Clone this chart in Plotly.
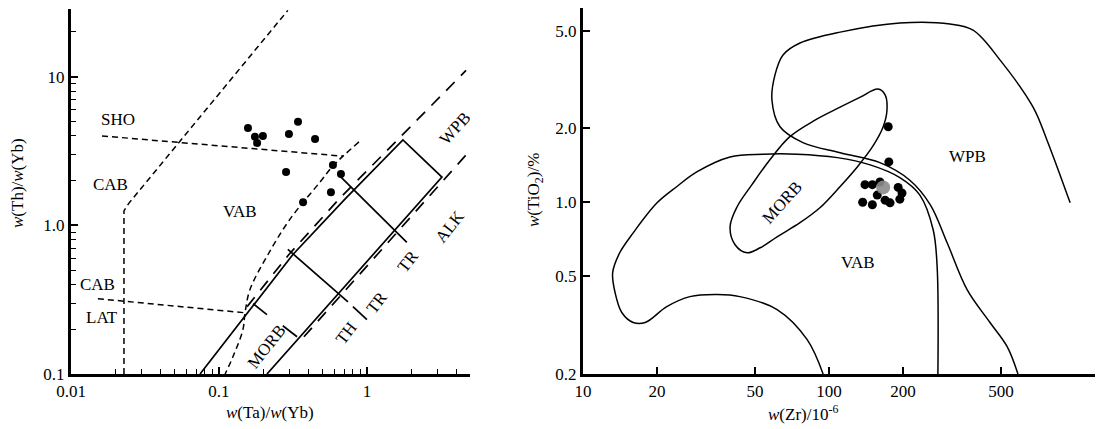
import numpy as np
import plotly.graph_objects as go

# ---------------- left panel: Th/Yb vs Ta/Yb ----------------
sample_ta_yb = [0.157, 0.175, 0.198, 0.181, 0.297, 0.342, 0.446, 0.284, 0.589, 0.667, 0.571, 0.370]
sample_th_yb = [4.52, 3.94, 3.99, 3.58, 4.12, 4.97, 3.81, 2.28, 2.54, 2.21, 1.67, 1.43]

sho_x = [0.0162, 0.689]
sho_y = [3.99, 2.92]
cab_lat_x = [0.0152, 0.150]
cab_lat_y = [0.321, 0.258]
cab_x = [0.0228, 0.0228, 0.0245, 0.292]
cab_y = [0.1, 1.25, 1.40, 27.9]
vab_x = [0.883, 0.689, 0.589, 0.481, 0.302, 0.211, 0.162, 0.150, 0.145, 0.124, 0.110]
vab_y = [3.64, 2.92, 2.51, 1.95, 1.10, 0.618, 0.370, 0.258, 0.198, 0.130, 0.1]

# mantle array band
band_up_x = [0.0745, 0.316, 0.710, 1.75, 3.21, 0.211]
band_up_y = [0.1, 0.637, 1.50, 3.75, 2.11, 0.1]
div_lines = [
    ([0.170, 0.211], [0.297, 0.251]),
    ([0.292, 0.744], [0.689, 0.306]),
    ([0.657, 1.86], [2.14, 0.768]),
    ([0.804, 1.0], [0.284, 0.232]),
    ([0.270, 0.337], [0.211, 0.178]),
]
wpb_up_x = [0.155, 0.297, 0.647, 1.60, 4.67]
wpb_up_y = [0.284, 0.637, 1.50, 3.75, 11.0]
wpb_lo_x = [0.375, 4.74]
wpb_lo_y = [0.178, 3.02]

left_labels = [
    ("SHO", 0.0208, 5.12, 0), ("CAB", 0.0184, 1.89, 0), ("VAB", 0.139, 1.24, 0),
    ("CAB", 0.0152, 0.399, 0), ("LAT", 0.0162, 0.239, 0), ("MORB", 0.211, 0.152, -52),
    ("TH", 0.733, 0.189, -52), ("TR", 1.17, 0.302, -52), ("TR", 1.89, 0.571, -52),
    ("ALK", 3.64, 0.984, -52), ("WPB", 3.94, 4.46, -48),
]

# ---------------- right panel: TiO2 vs Zr ----------------
vab_zr = [94.6, 81.5, 61.5, 43.4, 35.1, 27.2, 21.9, 17.9, 16.0, 14.4, 13.5, 13.2, 14.1, 16.0,
          20.0, 24.1, 29.0, 39.6, 54.0, 74.1, 108, 147, 194, 234, 265, 275, 277]
vab_ti = [0.2, 0.276, 0.366, 0.413, 0.421, 0.413, 0.376, 0.324, 0.324, 0.355, 0.429, 0.517,
          0.623, 0.751, 0.995, 1.16, 1.33, 1.53, 1.57, 1.57, 1.52, 1.42, 1.26, 1.07, 0.773, 0.547, 0.2]
wpb_zr = [955, 769, 675, 495, 385, 310, 194, 111, 76.2, 65.0, 60.3, 58.6, 63.2, 78.3, 111,
          161, 213, 258, 302, 364, 451, 529, 586]
wpb_ti = [0.995, 1.79, 2.44, 3.80, 5.02, 5.32, 5.37, 4.93, 4.45, 3.98, 3.30, 2.61, 2.03, 1.75,
          1.59, 1.45, 1.23, 0.977, 0.684, 0.441, 0.324, 0.259, 0.2]
morb_zr = [46.4, 41.5, 39.6, 42.3, 48.6, 57.5, 69.3, 87.7, 111, 134, 158, 169, 172, 166, 150,
           130, 111, 91.8, 76.2, 61.5, 52.5, 46.4]
morb_ti = [0.623, 0.672, 0.795, 0.959, 1.18, 1.49, 1.85, 2.16, 2.44, 2.68, 2.89, 2.74, 2.38,
           2.03, 1.68, 1.39, 1.16, 0.950, 0.826, 0.724, 0.653, 0.623]
sample_zr = [174, 175, 140, 150, 157, 137, 150, 169, 177, 191, 198, 194, 161]
sample_ti = [2.03, 1.46, 1.18, 1.18, 1.07, 1.00, 0.977, 1.02, 0.995, 1.15, 1.09, 1.03, 1.21]
mean_zr = [166]
mean_ti = [1.15]

right_labels = [("MORB", 64.4, 1.0, -48), ("WPB", 364, 1.53, 0), ("VAB", 131, 0.568, 0)]

FONT = "Liberation Serif, Times New Roman, serif"
FS = 17
fig = go.Figure()

def line(x, y, xa, ya, dash="solid", width=1.5, shape="linear"):
    fig.add_trace(go.Scatter(x=x, y=y, mode="lines", xaxis=xa, yaxis=ya, hoverinfo="skip",
                             line=dict(color="black", width=width, dash=dash, shape=shape)))

# left panel lines
line(sho_x, sho_y, "x", "y", dash="6px,4px")
line(cab_lat_x, cab_lat_y, "x", "y", dash="6px,4px")
line(cab_x, cab_y, "x", "y", dash="6px,4px")
line(vab_x, vab_y, "x", "y", dash="6px,4px", shape="spline")
line(band_up_x, band_up_y, "x", "y", width=1.7)
for dx, dy in div_lines:
    line(dx, dy, "x", "y", width=1.7)
line(wpb_up_x, wpb_up_y, "x", "y", dash="12px,9px", width=1.7)
line(wpb_lo_x, wpb_lo_y, "x", "y", dash="12px,9px", width=1.7)
fig.add_trace(go.Scatter(x=sample_ta_yb, y=sample_th_yb, mode="markers", xaxis="x", yaxis="y",
                         marker=dict(size=8, color="black")))

# right panel lines
line(vab_zr, vab_ti, "x2", "y2", shape="spline")
line(wpb_zr, wpb_ti, "x2", "y2", shape="spline")
line(morb_zr, morb_ti, "x2", "y2", shape="spline")
fig.add_trace(go.Scatter(x=sample_zr, y=sample_ti, mode="markers", xaxis="x2", yaxis="y2",
                         marker=dict(size=9, color="black")))
fig.add_trace(go.Scatter(x=mean_zr, y=mean_ti, mode="markers", xaxis="x2", yaxis="y2",
                         marker=dict(size=14, color="rgba(140,140,140,0.9)")))

annotations = []
for t, x, y, a in left_labels:
    annotations.append(dict(text=t, x=np.log10(x), y=np.log10(y), xref="x", yref="y",
                            showarrow=False, textangle=a, font=dict(size=FS, family=FONT, color="black")))
for t, x, y, a in right_labels:
    annotations.append(dict(text=t, x=np.log10(x), y=np.log10(y), xref="x2", yref="y2",
                            showarrow=False, textangle=a, font=dict(size=FS, family=FONT, color="black")))

# page body has an 8px margin, so the figure is made 8px smaller and everything shifted
OFF = 8
W, H = 1103 - OFF, 429 - OFF

def px(v):
    return (v - OFF) / W

def py(v):
    return 1 - (v - OFF) / H

titles = [
    ("<i>w</i>(Th)/<i>w</i>(Yb)", 17, 183, -90),
    ("<i>w</i>(Ta)/<i>w</i>(Yb)", 270, 412, 0),
    ("<i>w</i>(TiO<sub>2</sub>)/%", 535, 190, -90),
    ("<i>w</i>(Zr)/10<sup>-6</sup>", 803, 413, 0),
]
for t, x, y, a in titles:
    annotations.append(dict(text=t, x=px(x), y=py(y), xref="paper", yref="paper",
                            showarrow=False, textangle=a, xanchor="center", yanchor="middle",
                            font=dict(size=FS, family=FONT, color="black")))

axis_common = dict(type="log", showgrid=False, zeroline=False, showline=True, linewidth=3,
                   linecolor="black", ticks="inside", ticklen=7, tickwidth=1.5, tickcolor="black",
                   automargin=False, tickfont=dict(size=FS, family=FONT, color="black"))
minor = dict(ticks="inside", ticklen=5, tickwidth=1.2, tickcolor="black", dtick="D1", showgrid=False)

fig.update_layout(
    template="none",
    width=W, height=H, margin=dict(l=0, r=0, t=0, b=0, autoexpand=False),
    paper_bgcolor="white", plot_bgcolor="white", showlegend=False,
    annotations=annotations,
    xaxis=dict(axis_common, domain=[px(71), px(470)], range=[-2, np.log10(4.97)],
               tickvals=[0.01, 0.1, 1], ticktext=["0.01", "0.1", "1"], minor=minor, anchor="y"),
    yaxis=dict(axis_common, domain=[py(374), py(9)], range=[-1, np.log10(28.5)],
               tickvals=[0.1, 1, 10], ticktext=["0.1", "1.0", "10"], minor=minor, anchor="x"),
    xaxis2=dict(axis_common, domain=[px(583), px(1095)], range=[1, np.log10(1205)],
                tickvals=[10, 20, 50, 100, 200, 500], ticktext=["10", "20", "50", "100", "200", "500"],
                anchor="y2"),
    yaxis2=dict(axis_common, domain=[py(374), py(8)], range=[np.log10(0.2), np.log10(6.18)],
                tickvals=[0.2, 0.5, 1, 2, 5], ticktext=["0.2", "0.5", "1.0", "2.0", "5.0"],
                anchor="x2"),
)

fig.write_html("out.html")
